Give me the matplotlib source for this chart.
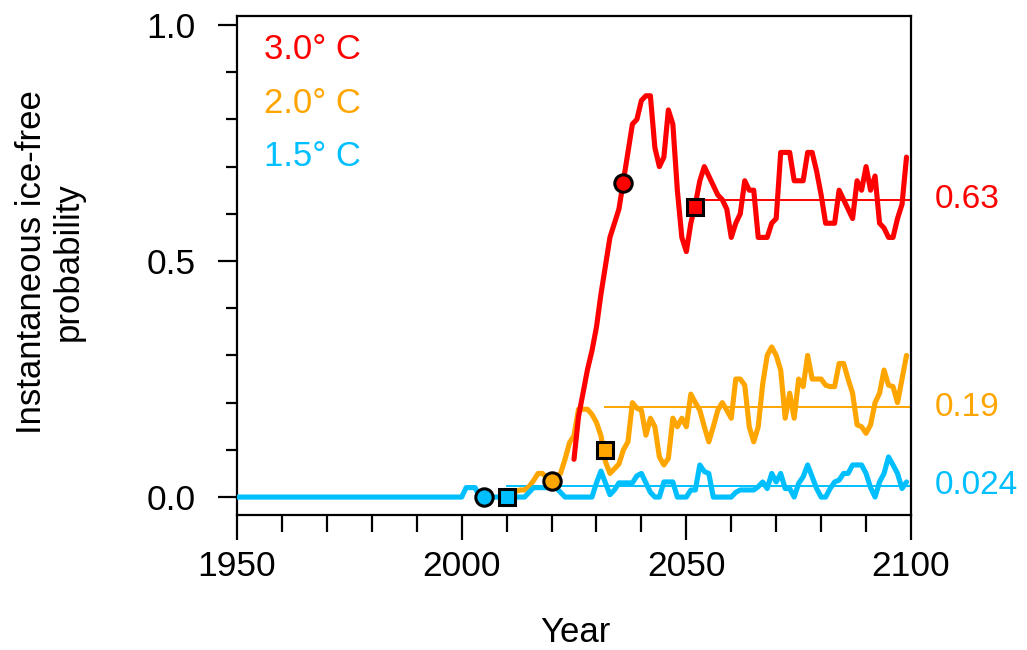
import numpy as np
import matplotlib
matplotlib.use("Agg")
import matplotlib.pyplot as plt
from matplotlib.ticker import MultipleLocator, FormatStrFormatter

plt.rcParams['font.family'] = ['Liberation Sans', 'DejaVu Sans']

# ---------------- data ----------------
years_blue = list(range(1950, 2100))
blue_vals = [0.0] * 51 + [  # 1950-2000
    0.02, 0.02, 0.02, 0.0, 0.0, 0.0, 0.0, 0.0, 0.0, 0.0,          # 2001-2010
    0.0, 0.0, 0.0, 0.0, 0.01, 0.02, 0.02, 0.02, 0.02, 0.02,       # 2011-2020
    0.02, 0.01, 0.0, 0.0, 0.0, 0.0, 0.0, 0.0, 0.0, 0.03,          # 2021-2030
    0.055, 0.03, 0.005, 0.015, 0.03, 0.03, 0.03, 0.03, 0.045, 0.05,  # 2031-2040
    0.03, 0.01, 0.0, 0.0, 0.032, 0.032, 0.032, 0.0, 0.0, 0.0,     # 2041-2050
    0.015, 0.015, 0.068, 0.054, 0.05, 0.0, 0.0, 0.0, 0.0, 0.0,    # 2051-2060
    0.01, 0.015, 0.015, 0.015, 0.015, 0.022, 0.032, 0.018, 0.05, 0.032,  # 2061-2070
    0.05, 0.018, 0.018, 0.0, 0.029, 0.043, 0.068, 0.043, 0.018, 0.0,    # 2071-2080
    0.0, 0.018, 0.032, 0.036, 0.05, 0.05, 0.068, 0.068, 0.068, 0.05,     # 2081-2090
    0.02, 0.0, 0.032, 0.05, 0.085, 0.068, 0.05, 0.018, 0.032,            # 2091-2099
]

years_orange = list(range(2011, 2100))
orange_vals = [
    0.0, 0.012, 0.015, 0.015, 0.022, 0.035, 0.05, 0.05, 0.04, 0.034,     # 2011-2020
    0.045, 0.05, 0.08, 0.115, 0.13, 0.186, 0.186, 0.186, 0.175, 0.158,  # 2021-2030
    0.13, 0.075, 0.05, 0.06, 0.07, 0.1, 0.117, 0.2, 0.188, 0.184,       # 2031-2040
    0.131, 0.167, 0.149, 0.085, 0.068, 0.082, 0.167, 0.149, 0.167, 0.149,  # 2041-2050
    0.218, 0.2, 0.184, 0.149, 0.117, 0.149, 0.184, 0.2, 0.184, 0.167,   # 2051-2060
    0.25, 0.25, 0.237, 0.149, 0.117, 0.149, 0.24, 0.3, 0.318, 0.3,      # 2061-2070
    0.269, 0.167, 0.22, 0.167, 0.25, 0.234, 0.3, 0.25, 0.25, 0.25,      # 2071-2080
    0.237, 0.234, 0.234, 0.283, 0.283, 0.25, 0.22, 0.153, 0.149, 0.135,  # 2081-2090
    0.153, 0.2, 0.22, 0.269, 0.237, 0.234, 0.2, 0.25, 0.3,              # 2091-2099
]

years_red = list(range(2025, 2100))
red_vals = [
    0.08, 0.17, 0.22, 0.27, 0.31, 0.36,                                  # 2025-2030
    0.43, 0.49, 0.55, 0.58, 0.61, 0.67, 0.73, 0.79, 0.80, 0.84,         # 2031-2040
    0.85, 0.85, 0.74, 0.70, 0.72, 0.82, 0.79, 0.65, 0.55, 0.52,         # 2041-2050
    0.58, 0.62, 0.67, 0.70, 0.68, 0.66, 0.64, 0.63, 0.61, 0.55,         # 2051-2060
    0.58, 0.60, 0.67, 0.65, 0.65, 0.55, 0.55, 0.55, 0.58, 0.59,         # 2061-2070
    0.73, 0.73, 0.73, 0.67, 0.67, 0.67, 0.73, 0.73, 0.69, 0.64,         # 2071-2080
    0.58, 0.58, 0.58, 0.65, 0.63, 0.61, 0.59, 0.67, 0.65, 0.70,         # 2081-2090
    0.65, 0.68, 0.58, 0.57, 0.55, 0.55, 0.59, 0.62, 0.72,               # 2091-2099
]

labels = ["3.0° C", "2.0° C", "1.5° C"]
colors = ["#FF0000", "#FFA500", "#00BFFF"]
mean_vals = [0.63, 0.19, 0.024]
mean_labels = ["0.63", "0.19", "0.024"]
mean_start = [2052, 2032, 2010]
circle_x = [2036, 2020, 2005]
circle_y = [0.665, 0.034, 0.0]
square_x = [2052, 2032, 2010]
square_y = [0.615, 0.10, 0.0]

# ---------------- figure ----------------
W, H = 1027, 650
fig = plt.figure(figsize=(W / 100, H / 100), dpi=100)
ax = fig.add_axes([237 / W, 1 - 515 / H, (911 - 237) / W, (515 - 16) / H])

series = [(years_red, red_vals), (years_orange, orange_vals), (years_blue, blue_vals)]
zorders = [3.2, 3.0, 3.1]
for i, (yrs, vals) in enumerate(series):
    ax.plot(yrs, vals, color=colors[i], lw=3.7, zorder=zorders[i],
            solid_joinstyle='round', solid_capstyle='round')
    ax.plot([mean_start[i], 2100], [mean_vals[i]] * 2, color=colors[i], lw=1.4, zorder=2.5)

for i in range(3):
    ax.plot(circle_x[i], circle_y[i], 'o', ms=12.5, mfc=colors[i], mec='black', mew=2.2, zorder=5)
    ax.plot(square_x[i], square_y[i], 's', ms=11.5, mfc=colors[i], mec='black', mew=2.2, zorder=5)
    ax.text(1.035, mean_vals[i], mean_labels[i], transform=ax.get_yaxis_transform(),
            color=colors[i], fontsize=24, va='center', ha='left')
    ax.text(1956, 0.947 - i * 0.113, labels[i], color=colors[i], fontsize=25,
            va='center', ha='left')

ax.set_xlim(1950, 2100)
ax.set_ylim(-0.038, 1.019)
ax.xaxis.set_major_locator(MultipleLocator(50))
ax.xaxis.set_minor_locator(MultipleLocator(10))
ax.yaxis.set_major_locator(MultipleLocator(0.5))
ax.yaxis.set_minor_locator(MultipleLocator(0.1))
ax.yaxis.set_major_formatter(FormatStrFormatter('%.1f'))
ax.tick_params(axis='both', which='major', direction='out', length=14, width=1.6,
               labelsize=25.5)
ax.tick_params(axis='y', which='major', pad=16)
ax.tick_params(axis='both', which='minor', direction='out', length=8, width=1.6)
ax.tick_params(axis='x', which='major', length=18, pad=7)
ax.tick_params(axis='x', which='minor', length=12)
for s in ax.spines.values():
    s.set_linewidth(1.6)

fig.text(575 / W, 1 - 632 / H, "Year", fontsize=25, ha='center', va='center')
fig.text(50 / W, 1 - 262 / H, "Instantaneous ice-free\nprobability", fontsize=25,
         rotation=90, ha='center', va='center', multialignment='center', linespacing=1.15)

fig.savefig("out.png", dpi=100)
